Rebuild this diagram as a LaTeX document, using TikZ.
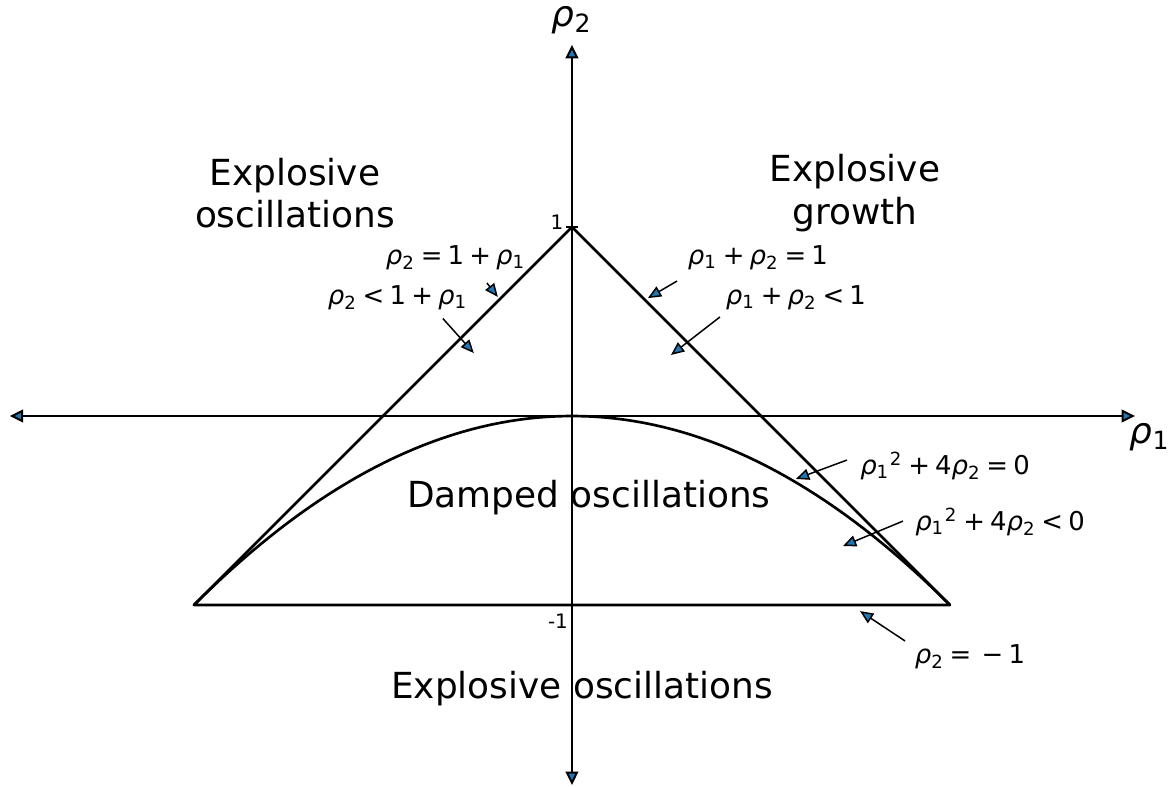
\documentclass[tikz,border=0pt]{standalone}
\usepackage{fontspec}
\setmainfont{DejaVu Sans}
\usepackage{xcolor}
\usetikzlibrary{arrows.meta}
\definecolor{tipblue}{RGB}{31,119,180}
\newcommand{\ra}{{\itshape ρ}\textsubscript{1}}
\newcommand{\rb}{{\itshape ρ}\textsubscript{2}}
\newcommand{\gap}{\hspace{0.2em}}

\begin{document}
\begin{tikzpicture}[
  x=2cm, y=2cm,
  axisline/.style={{Triangle[length=4pt,width=3.8pt,fill=tipblue]}-{Triangle[length=4pt,width=3.8pt,fill=tipblue]}, line width=0.6pt},
  curve/.style={line width=0.8pt, line join=round},
  regionlabel/.style={align=center, font=\fontsize{10.8}{12.8}\selectfont, inner sep=0pt},
  eqlabel/.style={font=\fontsize{7.8}{9}\selectfont, inner sep=0pt},
  ticklabel/.style={font=\fontsize{6}{7}\selectfont, inner sep=0pt},
  pointer/.style={-{Triangle[length=4pt,width=3.4pt,fill=tipblue]}, line width=0.45pt}
]
\useasboundingbox (-3.026,-1.958) rectangle (3.180,2.201);

% axes
\coordinate (xleft) at (-2.974,0);
\coordinate (xright) at (2.979,0);
\coordinate (ybottom) at (0,-1.952);
\coordinate (ytop) at (0,1.963);
\draw[axisline] (xleft) -- (xright);
\draw[axisline] (ybottom) -- (ytop);
\node[regionlabel] (rho1) at (3.058,-0.111) {\ra};
\node[regionlabel] (rho2) at (0,2.095) {\rb};

% ticks
\draw[line width=0.6pt] (-0.032,1) -- (0.032,1);
\node[ticklabel] (tickone) at (-0.079,1.026) {1};
\node[ticklabel] (tickminus) at (-0.074,-1.085) {-1};

% stability triangle
\coordinate (apex) at (0,1);
\coordinate (lcorner) at (-2,-1);
\coordinate (rcorner) at (2,-1);
\draw[curve] (lcorner) -- (apex) -- (rcorner) -- cycle;
\draw[curve] plot[domain=-2:2, samples=80] (\x,{-\x*\x/4});

% regions
\node[regionlabel] (leftosc) at (-1.466,1.18) {Explosive\\oscillations};
\node[regionlabel] (growth) at (1.497,1.18) {Explosive\\growth};
\node[regionlabel] (damped) at (0.09,-0.434) {Damped oscillations};
\node[regionlabel] (lowosc) at (0.053,-1.444) {Explosive oscillations};

% equations
\node[eqlabel] (eqa) at (-0.614,0.836) {\rb\gap=\gap1\gap+\gap\ra};
\node[eqlabel] (eqb) at (-0.921,0.624) {\rb\gap<\gap1\gap+\gap\ra};
\node[eqlabel] (eqc) at (0.984,0.836) {\ra\gap+\gap\rb\gap=\gap1};
\node[eqlabel] (eqd) at (1.185,0.624) {\ra\gap+\gap\rb\gap<\gap1};
\node[eqlabel] (eqe) at (1.974,-0.265) {\ra\textsuperscript{2}\gap+\gap4\rb\gap=\gap0};
\node[eqlabel] (eqf) at (2.265,-0.561) {\ra\textsuperscript{2}\gap+\gap4\rb\gap<\gap0};
\node[eqlabel] (eqg) at (2.106,-1.275) {\rb\gap=\gap\gap−\gap1};

\coordinate (taila) at (-0.450,0.704); \coordinate (tipa) at (-0.392,0.630);
\coordinate (tailb) at (-0.683,0.516); \coordinate (tipb) at (-0.519,0.333);
\coordinate (tailc) at (0.556,0.714);  \coordinate (tipc) at (0.402,0.624);
\coordinate (taild) at (0.783,0.524);  \coordinate (tipd) at (0.524,0.323);
\coordinate (taile) at (1.455,-0.233); \coordinate (tipe) at (1.185,-0.333);
\coordinate (tailf) at (1.751,-0.556); \coordinate (tipf) at (1.434,-0.688);
\coordinate (tailg) at (1.762,-1.190); \coordinate (tipg) at (1.524,-1.032);

\draw[pointer] (taila) -- (tipa);
\draw[pointer] (tailb) -- (tipb);
\draw[pointer] (tailc) -- (tipc);
\draw[pointer] (taild) -- (tipd);
\draw[pointer] (taile) -- (tipe);
\draw[pointer] (tailf) -- (tipf);
\draw[pointer] (tailg) -- (tipg);
\end{tikzpicture}
\end{document}
